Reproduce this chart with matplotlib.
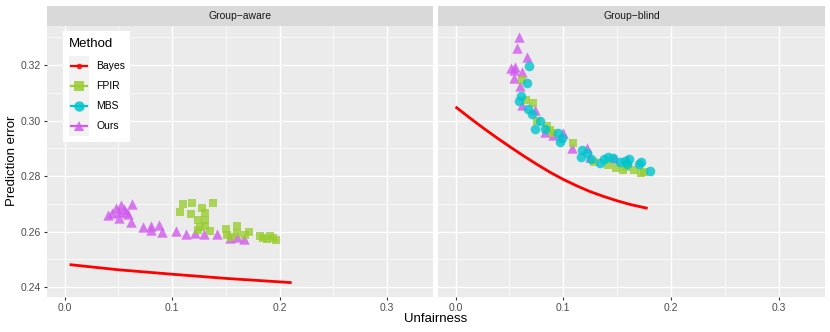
"""Prediction error vs unfairness, group-aware and group-blind panels (ggplot look)."""

import matplotlib
matplotlib.use("Agg")
import matplotlib.pyplot as plt
from matplotlib.lines import Line2D
from matplotlib.patches import Rectangle

plt.rcParams["font.family"] = ["Liberation Sans", "DejaVu Sans"]

# ---- data ----
aware_bayes_x = [0.006, 0.050, 0.100, 0.150, 0.210]
aware_bayes_y = [0.2481, 0.2463, 0.2447, 0.2432, 0.2417]

blind_bayes_x = [0.001, 0.014, 0.026, 0.039, 0.051, 0.063, 0.076, 0.088, 0.100,
                 0.113, 0.125, 0.138, 0.150, 0.163, 0.177]
blind_bayes_y = [0.3046, 0.3007, 0.2972, 0.2936, 0.2904, 0.2873, 0.2841, 0.2813, 0.2788,
                 0.2764, 0.2744, 0.2726, 0.2711, 0.2697, 0.2685]

aware_ours_x = [0.040, 0.044, 0.048, 0.051, 0.053, 0.055, 0.057, 0.051, 0.059, 0.063,
                0.062, 0.073, 0.080, 0.080, 0.088, 0.091, 0.104, 0.113, 0.121, 0.130,
                0.142, 0.154, 0.160, 0.167]
aware_ours_y = [0.2660, 0.2666, 0.2684, 0.2672, 0.2696, 0.2680, 0.2672, 0.2650, 0.2665, 0.2699,
                0.2636, 0.2618, 0.2622, 0.2605, 0.2624, 0.2600, 0.2604, 0.2591, 0.2596, 0.2591,
                0.2592, 0.2576, 0.2582, 0.2573]

aware_fpir_x = [0.107, 0.110, 0.119, 0.118, 0.128, 0.131, 0.138, 0.124, 0.131, 0.126,
                0.131, 0.124, 0.135, 0.150, 0.151, 0.160, 0.160, 0.155, 0.172, 0.168,
                0.182, 0.185, 0.191, 0.194, 0.197, 0.188]
aware_fpir_y = [0.2672, 0.2699, 0.2702, 0.2663, 0.2684, 0.2666, 0.2702, 0.2642, 0.2642, 0.2618,
                0.2620, 0.2606, 0.2604, 0.2609, 0.2588, 0.2620, 0.2596, 0.2582, 0.2600, 0.2588,
                0.2585, 0.2576, 0.2585, 0.2576, 0.2570, 0.2572]

blind_ours_x = [0.059, 0.057, 0.066, 0.051, 0.055, 0.054, 0.062, 0.054, 0.060, 0.062,
                0.074, 0.083, 0.090, 0.100, 0.108, 0.122, 0.125, 0.147, 0.159]
blind_ours_y = [0.3300, 0.3262, 0.3230, 0.3190, 0.3194, 0.3182, 0.3176, 0.3152, 0.3124, 0.3056,
                0.3038, 0.2960, 0.2948, 0.2954, 0.2902, 0.2900, 0.2870, 0.2864, 0.2858]

blind_fpir_x = [0.062, 0.065, 0.072, 0.076, 0.085, 0.088, 0.090, 0.109, 0.128, 0.141,
                0.149, 0.155, 0.158, 0.166, 0.172, 0.175]
blind_fpir_y = [0.3146, 0.3074, 0.3064, 0.2998, 0.2980, 0.2966, 0.2954, 0.2920, 0.2850, 0.2840,
                0.2828, 0.2822, 0.2832, 0.2822, 0.2812, 0.2816]

blind_mbs_x = [0.068, 0.066, 0.061, 0.059, 0.067, 0.071, 0.078, 0.074, 0.083, 0.095,
               0.099, 0.097, 0.117, 0.116, 0.122, 0.126, 0.134, 0.138, 0.141, 0.146,
               0.153, 0.157, 0.159, 0.161, 0.170, 0.172, 0.180]
blind_mbs_y = [0.3196, 0.3136, 0.3088, 0.3071, 0.3040, 0.3023, 0.2998, 0.2968, 0.2968, 0.2956,
               0.2936, 0.2924, 0.2894, 0.2870, 0.2882, 0.2860, 0.2848, 0.2860, 0.2868, 0.2864,
               0.2852, 0.2856, 0.2844, 0.2860, 0.2844, 0.2852, 0.2818]

methods = ["Bayes", "FPIR", "MBS", "Ours"]
colors = {"Bayes": "#FF0000", "FPIR": "#9ACD32", "MBS": "#00C5CD", "Ours": "#D25AF0"}
markers = {"Bayes": "o", "FPIR": "s", "MBS": "o", "Ours": "^"}
sizes = {"FPIR": 40, "MBS": 48, "Ours": 56}

W, H = 830, 332


def fx(x):
    return x / W


def fy(y):
    return 1 - y / H


def style_panel(ax, show_y):
    ax.set_facecolor("#EBEBEB")
    for s in ax.spines.values():
        s.set_visible(False)
    ax.set_xlim(-0.0163, 0.3428)
    ax.set_ylim(0.2365, 0.3340)
    ax.set_xticks([0.0, 0.1, 0.2, 0.3])
    ax.set_xticklabels(["0.0", "0.1", "0.2", "0.3"])
    ax.set_xticks([0.05, 0.15, 0.25], minor=True)
    ax.set_yticks([0.24, 0.26, 0.28, 0.30, 0.32])
    ax.set_yticklabels(["0.24", "0.26", "0.28", "0.30", "0.32"])
    ax.set_yticks([0.25, 0.27, 0.29, 0.31, 0.33], minor=True)
    ax.grid(which="major", color="white", linewidth=1.0)
    ax.grid(which="minor", color="white", linewidth=0.5)
    ax.set_axisbelow(True)
    ax.tick_params(which="major", length=2.2, width=0.8, color="#333333",
                   labelsize=7.5, labelcolor="#4D4D4D", pad=2)
    ax.tick_params(which="minor", length=0)
    if not show_y:
        ax.tick_params(axis="y", which="both", left=False, labelleft=False)


def add_strip(x0, w, label):
    sax = fig.add_axes([fx(x0), fy(26), fx(w), 20 / H])
    sax.set_facecolor("#D9D9D9")
    sax.set_xticks([])
    sax.set_yticks([])
    for s in sax.spines.values():
        s.set_visible(False)
    sax.text(0.5, 0.48, label, ha="center", va="center", fontsize=7.5, color="#1A1A1A",
             transform=sax.transAxes)


fig = plt.figure(figsize=(8.3, 3.32), dpi=100)
fig.patch.set_facecolor("white")

ax1 = fig.add_axes([fx(47), fy(297), fx(386), 271 / H])
ax2 = fig.add_axes([fx(438), fy(297), fx(387), 271 / H])
style_panel(ax1, True)
style_panel(ax2, False)
add_strip(47, 386, "Group\u2212aware")
add_strip(438, 387, "Group\u2212blind")

# Group-aware panel
ax1.plot(aware_bayes_x, aware_bayes_y, color=colors["Bayes"], linewidth=2.0, zorder=2)
ax1.scatter(aware_ours_x, aware_ours_y, marker="^", s=sizes["Ours"], color=colors["Ours"],
            alpha=0.8, linewidths=0, zorder=3)
ax1.scatter(aware_fpir_x, aware_fpir_y, marker="s", s=sizes["FPIR"], color=colors["FPIR"],
            alpha=0.8, linewidths=0, zorder=3)

# Group-blind panel
ax2.plot(blind_bayes_x, blind_bayes_y, color=colors["Bayes"], linewidth=2.0, zorder=2,
         solid_joinstyle="round")
ax2.scatter(blind_ours_x, blind_ours_y, marker="^", s=sizes["Ours"], color=colors["Ours"],
            alpha=0.8, linewidths=0, zorder=3)
ax2.scatter(blind_fpir_x, blind_fpir_y, marker="s", s=sizes["FPIR"], color=colors["FPIR"],
            alpha=0.8, linewidths=0, zorder=3)
ax2.scatter(blind_mbs_x, blind_mbs_y, marker="o", s=sizes["MBS"], color=colors["MBS"],
            alpha=0.8, linewidths=0, zorder=3)

# axis titles
fig.text(fx(436), fy(319), "Unfairness", ha="center", va="center", fontsize=9.5, color="black")
fig.text(fx(12), fy(161), "Prediction error", ha="center", va="center", rotation=90,
         fontsize=9.5, color="black")

# legend, drawn like ggplot's inside legend
fig.add_artist(Rectangle((fx(63), fy(142)), fx(67), 111 / H, transform=fig.transFigure,
                         facecolor="white", edgecolor="none", zorder=5))
fig.text(fx(69), fy(44), "Method", ha="left", va="center", fontsize=9.5, zorder=6)
key_y = [66, 86, 106, 126]
for m, ky in zip(methods, key_y):
    fig.add_artist(Rectangle((fx(69), fy(ky + 10)), fx(20), 20 / H, transform=fig.transFigure,
                             facecolor="#F2F2F2", edgecolor="none", zorder=6))
    fig.add_artist(Line2D([fx(71), fx(87)], [fy(ky), fy(ky)], transform=fig.transFigure,
                          color=colors[m], linewidth=1.6, zorder=7))
    ms = 4 if m == "Bayes" else 7.5
    fig.add_artist(Line2D([fx(79)], [fy(ky)], transform=fig.transFigure, marker=markers[m],
                          markersize=ms, color=colors[m], linestyle="None", alpha=0.85,
                          markeredgewidth=0, zorder=7))
    fig.text(fx(96), fy(ky), m, ha="left", va="center", fontsize=7.5, zorder=7)

fig.savefig("out.png", dpi=100, facecolor="white")
plt.close(fig)
